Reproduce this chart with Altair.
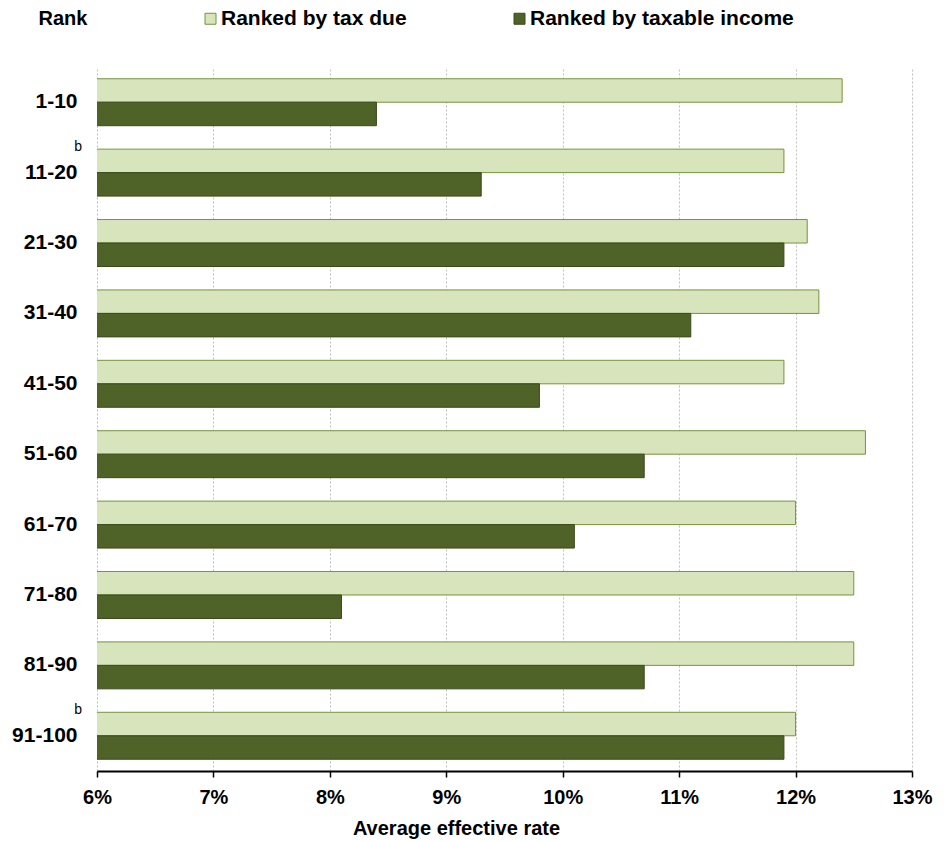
import altair as alt
import pandas as pd

ranks = ["1-10", "11-20", "21-30", "31-40", "41-50",
         "51-60", "61-70", "71-80", "81-90", "91-100"]
tax_due = [12.4, 11.9, 12.1, 12.2, 11.9, 12.6, 12.0, 12.5, 12.5, 12.0]
taxable_income = [8.4, 9.3, 11.9, 11.1, 9.8, 10.7, 10.1, 8.1, 10.7, 11.9]
series_names = ["Ranked by tax due", "Ranked by taxable income"]
notes = {"11-20": "b", "91-100": "b"}

FONT = "Liberation Sans"
fills = ["#D8E4BC", "#4F6228"]
strokes = ["#77933C", "#3B4A1E"]

rows = []
for r, a, b in zip(ranks, tax_due, taxable_income):
    rows.append({"rank": r, "series": series_names[0], "rate": a / 100})
    rows.append({"rank": r, "series": series_names[1], "rate": b / 100})
df = pd.DataFrame(rows)
note_df = pd.DataFrame({"rank": list(notes.keys()), "note": list(notes.values())})

band = alt.Scale(paddingInner=0.333, paddingOuter=0.167)

bars = alt.Chart(df).mark_bar(strokeWidth=1, clip=True).encode(
    x=alt.X("rate:Q",
            scale=alt.Scale(domain=[0.06, 0.13], nice=False, zero=False),
            axis=alt.Axis(title="Average effective rate", format=".0%",
                          values=[0.06, 0.07, 0.08, 0.09, 0.10, 0.11, 0.12, 0.13],
                          labelFont=FONT, labelFontSize=20, labelFontWeight="bold",
                          labelColor="#000000", labelPadding=10, labelFlush=False,
                          titleFont=FONT, titleFontSize=20, titleFontWeight="bold",
                          titleColor="#000000", titlePadding=11, titleX=359,
                          domainColor="#000000", domainWidth=2,
                          tickColor="#000000", tickSize=6, tickWidth=1.5,
                          grid=True, gridColor="#BFBFBF", gridDash=[2, 2],
                          gridWidth=1)),
    y=alt.Y("rank:N", sort=ranks, scale=band,
            axis=alt.Axis(title="Rank", titleAngle=0, titleX=-59, titleY=-49,
                          titleAlign="left", titleBaseline="middle",
                          titleFont=FONT, titleFontSize=20, titleFontWeight="bold",
                          titleColor="#000000",
                          labelFont=FONT, labelFontSize=21,
                          labelFontWeight="bold", labelColor="#000000",
                          ticks=False, domain=False, labelPadding=20,
                          grid=False)),
    yOffset=alt.YOffset("series:N", sort=series_names,
                        scale=alt.Scale(paddingInner=0, paddingOuter=0)),
    fill=alt.Fill("series:N", sort=series_names,
                  scale=alt.Scale(domain=series_names, range=fills),
                  legend=alt.Legend(title=None, orient="none", direction="horizontal",
                                    legendX=103, legendY=-59,
                                    labelFont=FONT, labelFontSize=21,
                                    labelFontWeight="bold", labelColor="#000000",
                                    symbolType="square", symbolSize=121,
                                    symbolStrokeWidth=1, symbolOffset=0,
                                    labelOffset=0, columnPadding=102,
                                    labelLimit=400)),
    stroke=alt.Stroke("series:N", sort=series_names,
                      scale=alt.Scale(domain=series_names, range=strokes),
                      legend=None),
)

note_text = alt.Chart(note_df).mark_text(
    font=FONT, fontSize=14, color="#000000", align="right", baseline="middle",
    dy=-26
).encode(
    y=alt.Y("rank:N", sort=ranks, scale=band),
    x=alt.value(-15),
    text="note:N",
)

chart = alt.layer(bars, note_text).properties(
    width=815, height=704,
    background="#FFFFFF",
    autosize=alt.AutoSizeParams(type="none"),
    padding={"left": 97, "top": 67, "right": 36, "bottom": 70},
).configure_view(stroke=None)

chart.save("out.html", embed_options={"renderer": "svg", "actions": False})
